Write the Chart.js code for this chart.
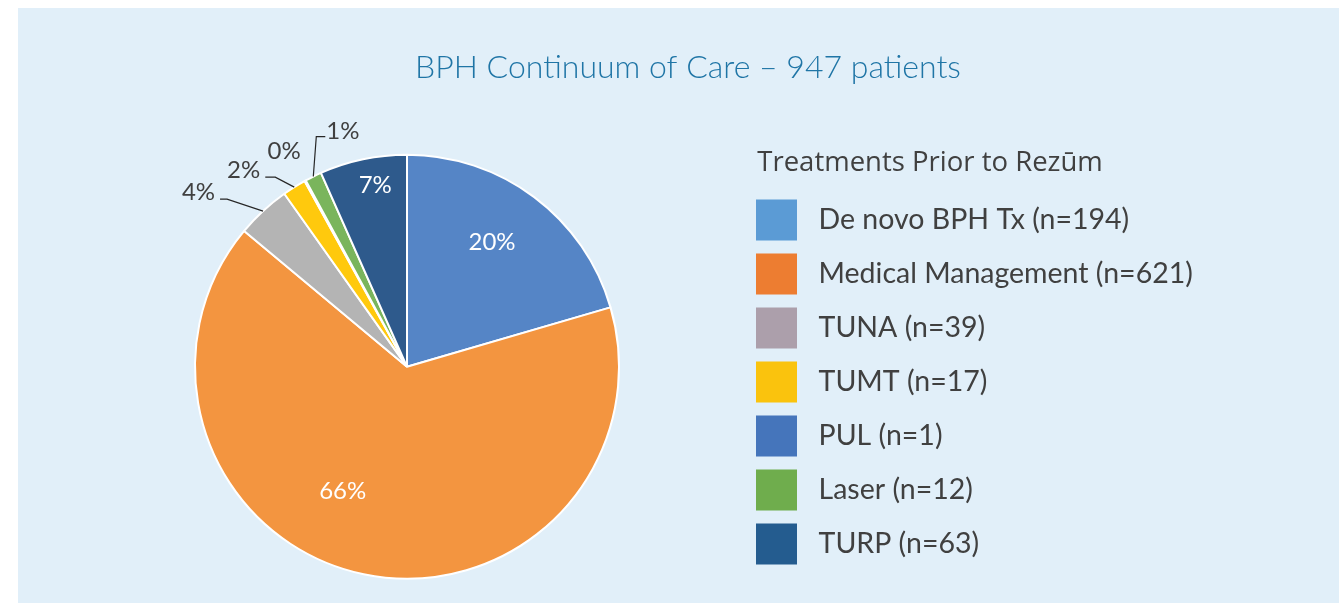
<!DOCTYPE html>
<html>
<head>
<meta charset="utf-8">
<script src="https://cdn.jsdelivr.net/npm/chart.js"></script>
<style>
  html, body { margin: 0; padding: 0; background: #fff; }
  #panel { position: absolute; left: 18px; top: 8px; width: 1321px; height: 595px; background: #e1eff9; }
</style>
</head>
<body>
<div id="panel"><canvas id="bphChart" width="1321" height="595"></canvas></div>
<script>
// Treatments prior to Rezum (947 patients)
const categories = ['De novo BPH Tx', 'Medical Management', 'TUNA', 'TUMT', 'PUL', 'Laser', 'TURP'];
const patients = [194, 621, 39, 17, 1, 12, 63];

// slice colours in the pie and swatch colours in the legend differ in the original
const sliceColors = ['#5585c6', '#f39540', '#b4b4b4', '#ffc90d', '#4472c4', '#7ab55c', '#2e5a8c'];
const legendColors = ['#5b9bd5', '#ed7d31', '#ac9fab', '#fac30d', '#4575bb', '#6fad4d', '#245c8f'];

const total = patients.reduce((a, b) => a + b, 0);

// label placement per slice: inside labels get a nudge, outside ones a leader line
const labelPlacement = [
  { inside: true, dx: -4, dy: -6 },
  { inside: true, dx: -34, dy: -21 },
  { elbowX: -36, elbowY: -12, tail: -7, line: true },
  { elbowX: -19, elbowY: -10, tail: -10, line: true },
  { elbowX: -21, elbowY: -29, tail: 0, line: false },
  { elbowX: 3, elbowY: -40, tail: 9, line: true },
  { inside: true, dx: -1, dy: -36 }
];

const pieLabels = {
  id: 'pieLabels',
  afterDatasetsDraw(chart) {
    const ctx = chart.ctx;
    const meta = chart.getDatasetMeta(0);
    ctx.save();
    ctx.font = '24px Lato';
    ctx.textBaseline = 'middle';
    meta.data.forEach((arc, i) => {
      const p = labelPlacement[i];
      const text = Math.round(patients[i] / total * 100) + '%';
      const mid = (arc.startAngle + arc.endAngle) / 2;
      if (p.inside) {
        const r = arc.outerRadius * 0.7;
        ctx.fillStyle = '#ffffff';
        ctx.textAlign = 'center';
        ctx.fillText(text, arc.x + Math.cos(mid) * r + p.dx, arc.y + Math.sin(mid) * r + p.dy);
        return;
      }
      const ax = arc.x + Math.cos(mid) * arc.outerRadius;
      const ay = arc.y + Math.sin(mid) * arc.outerRadius;
      const ex = ax + p.elbowX, ey = ay + p.elbowY;
      const tx = ex + p.tail;
      if (p.line) {
        ctx.strokeStyle = '#262626';
        ctx.lineWidth = 1.2;
        ctx.beginPath();
        ctx.moveTo(ax, ay);
        ctx.lineTo(ex, ey);
        ctx.lineTo(tx, ey);
        ctx.stroke();
      }
      ctx.fillStyle = '#404040';
      if (!p.line) {
        ctx.textAlign = 'center';
        ctx.fillText(text, ex, ey);
      } else if (p.tail < 0) {
        ctx.textAlign = 'right';
        ctx.fillText(text, tx - 5, ey - 7);
      } else {
        ctx.textAlign = 'left';
        ctx.fillText(text, tx + 1, ey - 5);
      }
    });
    ctx.restore();
  }
};

// widen the legend box so the title stays centred over the whole panel
const legendWidth = 562;
const wideLegend = {
  id: 'wideLegend',
  beforeLayout(chart) {
    const legend = chart.legend;
    if (!legend || legend._wide) return;
    const fit = legend.fit;
    legend.fit = function () {
      fit.call(this);
      this.width = legendWidth;
    };
    legend._wide = true;
  }
};

new Chart(document.getElementById('bphChart'), {
  type: 'pie',
  data: {
    labels: categories,
    datasets: [{
      data: patients,
      backgroundColor: sliceColors,
      borderColor: '#ffffff',
      borderWidth: 2,
      radius: 212
    }]
  },
  options: {
    responsive: false,
    animation: false,
    layout: { padding: { left: 53, right: 34, top: 0, bottom: 7 } },
    plugins: {
      tooltip: { enabled: false },
      title: {
        display: true,
        text: 'BPH Continuum of Care \u2013 947 patients',
        color: '#1f75a6',
        font: { family: 'Lato', size: 32, weight: '300', lineHeight: 1.2 },
        padding: { top: 40, bottom: 51 }
      },
      legend: {
        position: 'right',
        align: 'start',
        fullSize: false,
        title: {
          display: true,
          text: '  Treatments Prior to Rez\u016bm',
          color: '#404040',
          position: 'start',
          font: { family: 'Open Sans', size: 27.5, weight: '400', lineHeight: 1.2 },
          padding: { top: 12, bottom: 4 }
        },
        labels: {
          boxWidth: 41,
          boxHeight: 41,
          padding: 13,
          color: '#595959',
          font: { family: 'Lato', size: 28.5, weight: '400' },
          generateLabels() {
            return categories.map((c, i) => ({
              text: ' ' + c + ' (n=' + patients[i] + ')',
              fillStyle: legendColors[i],
              strokeStyle: legendColors[i],
              lineWidth: 0,
              index: i
            }));
          }
        }
      }
    }
  },
  plugins: [pieLabels, wideLegend]
});
</script>
</body>
</html>
